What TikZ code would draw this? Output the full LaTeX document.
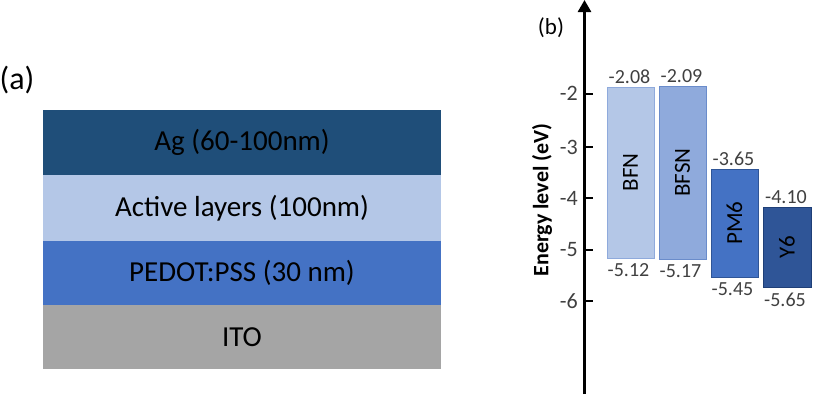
\documentclass[tikz,border=0pt]{standalone}
\usepackage{fontspec}
\setmainfont{Carlito}
\usetikzlibrary{arrows.meta}
\definecolor{agc}{HTML}{1F4E79}
\definecolor{actc}{HTML}{B4C7E7}
\definecolor{pedc}{HTML}{4472C4}
\definecolor{itoc}{HTML}{A5A5A5}
\definecolor{bfnc}{HTML}{B4C7E7}
\definecolor{bfnd}{HTML}{8FAADC}
\definecolor{bfsc}{HTML}{8FAADC}
\definecolor{bfsd}{HTML}{6A8CCB}
\definecolor{pmc}{HTML}{4472C4}
\definecolor{pmd}{HTML}{2F5597}
\definecolor{y6c}{HTML}{2F5597}
\definecolor{y6d}{HTML}{1F3F77}
\definecolor{valc}{HTML}{404040}
\begin{document}
\begin{tikzpicture}[x=1pt,y=-1pt,
  layer/.style={draw=none,minimum width=398pt,minimum height=65pt,inner sep=0pt,font=\fontsize{29}{32}\selectfont,text=black},
  bar/.style={rectangle,inner sep=0pt,line width=0.8pt},
  barlbl/.style={font=\fontsize{23}{25}\selectfont,rotate=90,text=black},
  val/.style={font=\fontsize{20}{22}\selectfont,text=valc,inner sep=0pt},
  tick/.style={font=\fontsize{22}{24}\selectfont,text=valc,anchor=east,inner sep=0pt},
  panel/.style={inner sep=0pt}]
\useasboundingbox (0,0) rectangle (814,394);
% panel (a)
\node[panel,font=\fontsize{32}{34}\selectfont] (la) at (17,80) {(a)};
\node[layer,fill=agc,minimum height=65.5pt] (ag) at (242,142.5) {Ag (60-100nm)};
\node[layer,fill=actc,minimum height=66pt] (act) at (242,208) {Active layers (100nm)};
\node[layer,fill=pedc,minimum height=64pt] (ped) at (242,273) {PEDOT:PSS (30 nm)};
\node[layer,fill=itoc,minimum height=64pt] (ito) at (242,337) {ITO};
% panel (b)
\node[panel,font=\fontsize{23}{25}\selectfont] (lb) at (551,28) {(b)};
\coordinate (axb) at (584.5,394);
\coordinate (axt) at (584.5,0);
\draw[line width=2.6pt,-{Triangle[length=12pt,width=13pt]}] (axb) -- (axt);
\foreach \v/\y in {2/93.5,3/147,4/198,5/250,6/301}{
  \coordinate (t\v) at (584.5,\y);
  \draw[line width=2pt] (t\v) -- ++(8,0);
  \node[tick] (tl\v) at (578,\y) {-\v};
}
\node[font=\bfseries\fontsize{22}{24}\selectfont,rotate=90] (elab) at (542,200) {Energy level (eV)};
% bars
\node[bar,fill=bfnc,draw=bfnd,minimum width=47pt,minimum height=171pt] (bfn) at (630.5,172.5) {};
\node[bar,fill=bfsc,draw=bfsd,minimum width=47pt,minimum height=173pt] (bfsn) at (682.5,172.5) {};
\node[bar,fill=pmc,draw=pmd,minimum width=47pt,minimum height=108pt] (pm6) at (734.5,223) {};
\node[bar,fill=y6c,draw=y6d,minimum width=48pt,minimum height=80pt] (y6) at (787,247) {};
\node[barlbl] at (bfn) {BFN};
\node[barlbl] at (bfsn) {BFSN};
\node[barlbl] at (pm6) {PM6};
\node[barlbl] at (y6) {Y6};
\node[val,anchor=south] (v1) at ([xshift=-1pt,yshift=3pt]bfn.north) {-2.08};
\node[val,anchor=south] (v2) at ([xshift=-1pt,yshift=3pt]bfsn.north) {-2.09};
\node[val,anchor=south] (v3) at ([xshift=-1pt,yshift=3pt]pm6.north) {-3.65};
\node[val,anchor=south] (v4) at ([xshift=-1pt,yshift=3pt]y6.north) {-4.10};
\node[val,anchor=north] (w1) at ([xshift=-2pt,yshift=-5pt]bfn.south) {-5.12};
\node[val,anchor=north] (w2) at ([xshift=-2pt,yshift=-5pt]bfsn.south) {-5.17};
\node[val,anchor=north] (w3) at ([xshift=-2pt,yshift=-5pt]pm6.south) {-5.45};
\node[val,anchor=north] (w4) at ([xshift=-2pt,yshift=-5pt]y6.south) {-5.65};
\end{tikzpicture}
\end{document}
